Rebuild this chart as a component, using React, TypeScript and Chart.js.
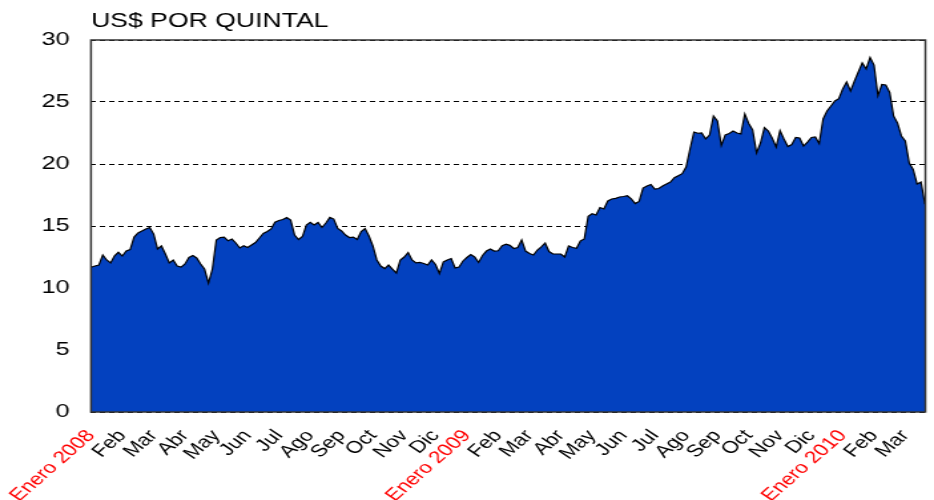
import { useEffect, useRef } from "react";
import { Chart, registerables } from "chart.js";

Chart.register(...registerables);

// Month tick labels (one per month, starting January 2008)
const MONTH_LABELS = [
  "Enero 2008", "Feb", "Mar", "Abr", "May", "Jun", "Jul", "Ago", "Sep", "Oct", "Nov", "Dic",
  "Enero 2009", "Feb", "Mar", "Abr", "May", "Jun", "Jul", "Ago", "Sep", "Oct", "Nov", "Dic",
  "Enero 2010", "Feb", "Mar",
];

// Price samples, 8 per month (US$ por quintal)
const SAMPLES_PER_MONTH = 8;
const PRICES = [
  11.67, 11.77, 11.85, 12.66, 12.26, 12.02, 12.6, 12.88, 12.58, 12.98,
  13.1, 14.11, 14.44, 14.6, 14.76, 14.88, 14.35, 13.15, 13.39, 12.74,
  12.02, 12.26, 11.77, 11.69, 11.94, 12.46, 12.62, 12.42, 11.94, 11.53,
  10.4, 11.53, 13.87, 14.07, 14.11, 13.81, 13.95, 13.63, 13.23, 13.41,
  13.27, 13.47, 13.67, 14.03, 14.4, 14.56, 14.76, 15.3, 15.44, 15.52,
  15.69, 15.48, 14.27, 13.91, 14.15, 15.08, 15.3, 15.08, 15.28, 14.88,
  15.24, 15.69, 15.56, 14.8, 14.6, 14.27, 14.07, 14.11, 13.91, 14.56,
  14.8, 14.19, 13.39, 12.26, 11.77, 11.57, 11.85, 11.53, 11.21, 12.26,
  12.5, 12.86, 12.26, 12.02, 12.06, 11.98, 11.85, 12.26, 11.9, 11.17,
  12.1, 12.26, 12.38, 11.61, 11.69, 12.18, 12.46, 12.7, 12.5, 12.06,
  12.62, 12.98, 13.15, 12.98, 13.0, 13.41, 13.53, 13.44, 13.19, 13.27,
  13.87, 12.98, 12.78, 12.66, 13.06, 13.31, 13.63, 12.94, 12.74, 12.74,
  12.74, 12.5, 13.39, 13.27, 13.2, 13.79, 13.95, 15.78, 15.99, 15.89,
  16.49, 16.37, 17.02, 17.18, 17.23, 17.34, 17.38, 17.44, 17.18, 16.81,
  16.98, 18.06, 18.23, 18.35, 17.98, 18.02, 18.23, 18.39, 18.55, 18.9,
  19.06, 19.22, 19.76, 21.21, 22.58, 22.48, 22.5, 22.02, 22.34, 23.87,
  23.47, 21.49, 22.35, 22.46, 22.66, 22.5, 22.42, 24.03, 23.27, 22.74,
  20.89, 21.69, 22.93, 22.66, 22.07, 21.37, 22.7, 22.02, 21.41, 21.57,
  22.15, 22.1, 21.45, 21.77, 22.14, 22.18, 21.65, 23.63, 24.27, 24.68,
  25.08, 25.27, 26.05, 26.61, 25.89, 26.69, 27.42, 28.15, 27.66, 28.59,
  27.98, 25.51, 26.41, 26.37, 25.77, 23.87, 23.31, 22.26, 21.85, 20.08,
  19.56, 18.39, 18.55, 16.77,
];

const X_MAX_MONTHS = 26.64;
const Y_MIN = 0;
const Y_MAX = 30;
const Y_STEP = 5;
const TITLE = "US$ POR QUINTAL";

const FONT = "'Liberation Sans', Arial, Helvetica, sans-serif";
const BASE_W = 702;
const STRETCH = 934 / BASE_W;

const framePlugin = {
  id: "frame",
  afterDatasetsDraw(chart: any) {
    const { ctx, chartArea } = chart;
    const { left, top, right, bottom } = chartArea;
    ctx.save();
    ctx.strokeStyle = "#333333";
    ctx.lineWidth = 1.5;
    ctx.strokeRect(left, top, right - left, bottom - top);
    ctx.restore();
  },
};

export default function App() {
  const ref = useRef<HTMLCanvasElement | null>(null);

  useEffect(() => {
    if (!ref.current) return;
    const points = PRICES.map((v, i) => ({ x: i / SAMPLES_PER_MONTH, y: v }));
    const chart = new Chart(ref.current, {
      type: "line",
      data: {
        datasets: [
          {
            data: points,
            borderColor: "#000000",
            borderWidth: 1.2,
            backgroundColor: "#0341BF",
            fill: "origin",
            pointRadius: 0,
            tension: 0,
          },
        ],
      },
      options: {
        animation: false,
        responsive: true,
        maintainAspectRatio: false,
        layout: { padding: { left: 0, right: 1, top: 0, bottom: 0 } },
        plugins: {
          legend: { display: false },
          tooltip: { enabled: false },
          title: {
            display: true,
            text: TITLE,
            align: "start",
            fullSize: false,
            color: "#000000",
            font: { family: FONT, size: 20, weight: "normal" },
            padding: { top: 9, bottom: 7 },
          },
        },
        scales: {
          x: {
            type: "linear",
            min: 0,
            max: X_MAX_MONTHS,
            afterBuildTicks: (scale: any) => {
              scale.ticks = MONTH_LABELS.map((_, i) => ({ value: i }));
            },
            afterFit: (scale: any) => {
              scale.height = 88;
            },
            ticks: {
              autoSkip: false,
              minRotation: 49,
              maxRotation: 49,
              padding: 6,
              font: { family: FONT, size: 17 },
              color: (ctx: any) =>
                String(MONTH_LABELS[ctx.tick?.value] ?? "").startsWith("Enero") ? "#FF0000" : "#000000",
              callback: (value: any) => MONTH_LABELS[value as number] ?? "",
            },
            grid: { display: false },
            border: { display: false },
          },
          y: {
            min: Y_MIN,
            max: Y_MAX,
            afterFit: (scale: any) => {
              scale.width = 68.4;
            },
            ticks: {
              stepSize: Y_STEP,
              padding: 16,
              color: "#000000",
              font: { family: FONT, size: 19 },
            },
            grid: { color: "#000000", lineWidth: 1, drawTicks: false },
            border: { display: false, dash: [4, 3] },
          },
        },
      },
      plugins: [framePlugin],
    });
    return () => chart.destroy();
  }, []);

  return (
    <div
      style={{
        position: "absolute",
        left: 0,
        top: 0,
        width: 934,
        height: 500,
        overflow: "hidden",
        background: "#ffffff",
      }}
    >
      <div
        style={{
          width: BASE_W,
          height: 500,
          transform: `scaleX(${STRETCH})`,
          transformOrigin: "0 0",
        }}
      >
        <canvas ref={ref} />
      </div>
    </div>
  );
}
